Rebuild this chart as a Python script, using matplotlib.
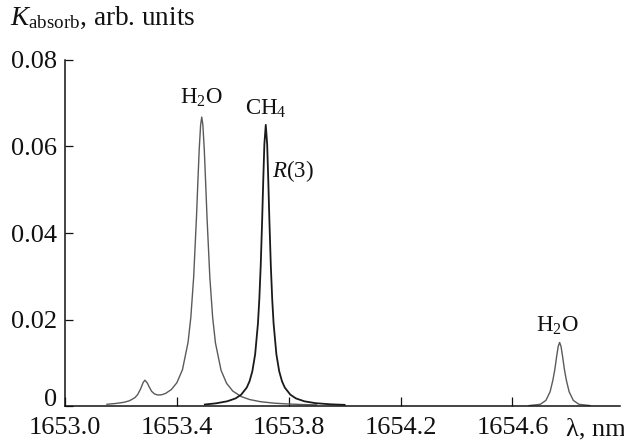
import matplotlib
matplotlib.use("Agg")
import matplotlib.pyplot as plt
from matplotlib.transforms import blended_transform_factory

plt.rcParams['font.family'] = ['Liberation Serif', 'DejaVu Serif']
plt.rcParams['mathtext.fontset'] = 'custom'
plt.rcParams['mathtext.rm'] = 'Liberation Serif'
plt.rcParams['mathtext.it'] = 'Liberation Serif:italic'
plt.rcParams['mathtext.bf'] = 'Liberation Serif:bold'

# H2O absorption (left group: weak line + strong line)
h2o_wl = [1653.15, 1653.18, 1653.21, 1653.23, 1653.25, 1653.26, 1653.27, 1653.28,
          1653.286, 1653.295, 1653.30, 1653.31, 1653.32, 1653.33, 1653.34, 1653.35,
          1653.36, 1653.38, 1653.40, 1653.42, 1653.44, 1653.45, 1653.46, 1653.47,
          1653.475, 1653.48, 1653.485, 1653.489, 1653.493, 1653.498, 1653.503,
          1653.508, 1653.518, 1653.528, 1653.538, 1653.558, 1653.578, 1653.60,
          1653.63, 1653.66, 1653.70, 1653.75, 1653.80, 1653.85, 1653.90]
h2o_k = [0.0004, 0.00058, 0.00085, 0.0012, 0.00193, 0.00267, 0.00391, 0.00551,
         0.00597, 0.00525, 0.00453, 0.00338, 0.0028, 0.00257, 0.00256, 0.00268,
         0.00293, 0.00379, 0.00538, 0.00838, 0.0147, 0.0205, 0.0297, 0.0434,
         0.0516, 0.0594, 0.0650, 0.0668, 0.0650, 0.0594, 0.0516,
         0.0434, 0.0297, 0.0205, 0.0146, 0.00827, 0.00523, 0.00346,
         0.00219, 0.0015, 0.00099, 0.00065, 0.00046, 0.00034, 0.00026]

# CH4 R(3) line
ch4_wl = [1653.50, 1653.54, 1653.58, 1653.61, 1653.63, 1653.65, 1653.66, 1653.67,
          1653.68, 1653.69, 1653.695, 1653.70, 1653.705, 1653.709, 1653.713,
          1653.718, 1653.723, 1653.727, 1653.731, 1653.736, 1653.741, 1653.746,
          1653.756, 1653.766, 1653.776, 1653.786, 1653.806, 1653.826, 1653.856,
          1653.896, 1653.95, 1654.00]
ch4_k = [0.00035, 0.00062, 0.00109, 0.00176, 0.00262, 0.00427, 0.00573, 0.00804,
         0.01195, 0.01906, 0.02476, 0.0326, 0.04285, 0.05216, 0.06053,
         0.0650, 0.06053, 0.05216, 0.04285, 0.0326, 0.02476, 0.01906,
         0.01195, 0.00804, 0.00573, 0.00427, 0.00262, 0.00176, 0.00109,
         0.00066, 0.00039, 0.00027]

# H2O weak line on the right
h2o2_wl = [1654.66, 1654.70, 1654.72, 1654.735, 1654.745, 1654.752, 1654.758,
           1654.764, 1654.769, 1654.774, 1654.780, 1654.786, 1654.793, 1654.803,
           1654.818, 1654.838, 1654.878]
h2o2_k = [0.0001, 0.0004, 0.0013, 0.0033, 0.0060, 0.0085, 0.0113,
          0.0138, 0.0147, 0.0138, 0.0113, 0.0085, 0.0060, 0.0033,
          0.0013, 0.0004, 0.0001]

x_ticks = [1653.0, 1653.4, 1653.8, 1654.2, 1654.6]
x_ticklabels = ["1653.0", "1653.4", "1653.8", "1654.2", "1654.6"]
y_ticks = [0, 0.02, 0.04, 0.06, 0.08]
y_ticklabels = ["0", "0.02", "0.04", "0.06", "0.08"]

fig = plt.figure(figsize=(6.24, 4.45), dpi=100)
ax = fig.add_axes([0.1042, 0.0876, 0.8894, 0.7776])

ax.plot(h2o_wl, h2o_k, color='#5a5a5a', lw=1.0)
ax.plot(h2o2_wl, h2o2_k, color='#5a5a5a', lw=1.0)
ax.plot(ch4_wl, ch4_k, color='#1a1a1a', lw=1.3)

ax.set_xlim(1653.0, 1654.985)
ax.set_ylim(0, 0.08)

for s in ['top', 'right']:
    ax.spines[s].set_visible(False)
for s in ['left', 'bottom']:
    ax.spines[s].set_linewidth(1.1)
    ax.spines[s].set_color('#111111')

ax.set_xticks(x_ticks)
ax.set_xticklabels(x_ticklabels)
ax.set_yticks(y_ticks)
ax.set_yticklabels(y_ticklabels)
ax.tick_params(axis='x', direction='in', length=6.5, width=0.9, labelsize=19, pad=8, colors='#111111')
ax.tick_params(axis='y', direction='in', length=6, width=0.9, labelsize=19, pad=6, colors='#111111')
# set the "0" label on the axis baseline so it does not collide with "1653.0"
ax.get_yticklabels()[0].set_verticalalignment('baseline')

fs = 16.5
ax.text(1653.486, 0.0712, r"H$_2$O", ha='center', va='center', fontsize=fs, color='#111111')
ax.text(1653.72, 0.0686, r"CH$_4$", ha='center', va='center', fontsize=fs, color='#111111')
ax.text(1653.815, 0.0543, r"$R$(3)", ha='center', va='center', fontsize=fs, color='#111111')
ax.text(1654.762, 0.0185, r"H$_2$O", ha='center', va='center', fontsize=fs, color='#111111')

# axis titles
trans = blended_transform_factory(ax.transAxes, ax.transAxes)
ax.text(0.902, -0.069, "λ, nm", transform=trans, ha='left', va='center',
        fontsize=19, color='#111111')
fig.text(10 / 624, 1 - 18 / 445, r"$K_{\mathrm{absorb}}$, arb. units", ha='left', va='center',
         fontsize=19.5, color='#111111')

fig.savefig("out.png", dpi=100)
